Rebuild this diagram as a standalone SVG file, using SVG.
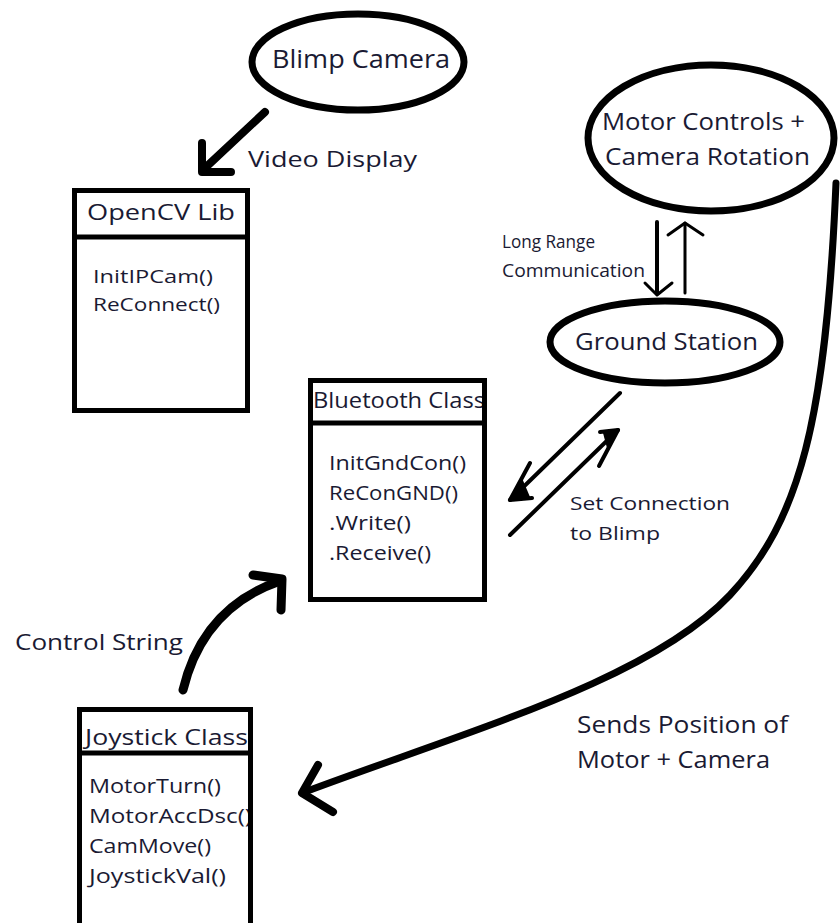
<svg xmlns="http://www.w3.org/2000/svg" width="840" height="923" viewBox="0 0 840 923">
<style>
.t{font-family:"Open Sans","Noto Sans","DejaVu Sans",sans-serif;fill:#1a1a33}
.box{fill:none;stroke:#000;stroke-width:5}
.div{stroke:#000;stroke-width:5}
.ell{fill:none;stroke:#000;stroke-width:7}
.c{fill:none;stroke:#000;stroke-linecap:round;stroke-linejoin:round}
</style>
<rect width="840" height="923" fill="#fff"/>
<g id="blimp-camera">
<ellipse class="ell" cx="358" cy="62" rx="106" ry="48"/>
<text class="t" x="272" y="68" font-size="25" textLength="178" lengthAdjust="spacingAndGlyphs">Blimp Camera</text>
</g>
<g id="motor-controls">
<ellipse class="ell" cx="711" cy="138" rx="123" ry="73"/>
<text class="t" x="602" y="130" font-size="24" textLength="203" lengthAdjust="spacingAndGlyphs">Motor Controls +</text>
<text class="t" x="605" y="165" font-size="24" textLength="205" lengthAdjust="spacingAndGlyphs">Camera Rotation</text>
</g>
<g id="ground-station">
<ellipse class="ell" cx="665" cy="342" rx="115" ry="41"/>
<text class="t" x="575" y="350" font-size="23" textLength="183" lengthAdjust="spacingAndGlyphs">Ground Station</text>
</g>
<g id="opencv-lib">
<text class="t" x="87" y="220" font-size="21" textLength="148" lengthAdjust="spacingAndGlyphs">OpenCV Lib</text>
<text class="t" x="93" y="283" font-size="19" textLength="120" lengthAdjust="spacingAndGlyphs">InitIPCam()</text>
<text class="t" x="93" y="311" font-size="19" textLength="127" lengthAdjust="spacingAndGlyphs">ReConnect()</text>
<rect class="box" x="74.5" y="190.5" width="173" height="220"/>
<line class="div" x1="74.5" y1="237" x2="247.5" y2="237"/>
</g>
<g id="bluetooth-class">
<text class="t" x="313" y="408" font-size="21" textLength="172" lengthAdjust="spacingAndGlyphs">Bluetooth Class</text>
<text class="t" x="329" y="470" font-size="20" textLength="137" lengthAdjust="spacingAndGlyphs">InitGndCon()</text>
<text class="t" x="329" y="500" font-size="20" textLength="129" lengthAdjust="spacingAndGlyphs">ReConGND()</text>
<text class="t" x="329" y="530" font-size="20" textLength="82" lengthAdjust="spacingAndGlyphs">.Write()</text>
<text class="t" x="329" y="560" font-size="20" textLength="102" lengthAdjust="spacingAndGlyphs">.Receive()</text>
<rect class="box" x="310.5" y="380.5" width="174" height="219"/>
<line class="div" x1="310.5" y1="423" x2="484.5" y2="423"/>
</g>
<g id="joystick-class">
<text class="t" x="85" y="745" font-size="21" textLength="163" lengthAdjust="spacingAndGlyphs">Joystick Class</text>
<text class="t" x="89" y="793" font-size="20" textLength="132" lengthAdjust="spacingAndGlyphs">MotorTurn()</text>
<text class="t" x="89" y="823" font-size="20" textLength="163" lengthAdjust="spacingAndGlyphs">MotorAccDsc()</text>
<text class="t" x="89" y="853" font-size="20" textLength="122" lengthAdjust="spacingAndGlyphs">CamMove()</text>
<text class="t" x="89" y="883" font-size="20" textLength="137" lengthAdjust="spacingAndGlyphs">JoystickVal()</text>
<rect class="box" x="79.5" y="709.5" width="171" height="240"/>
<line class="div" x1="79.5" y1="753" x2="250.5" y2="753"/>
</g>
<g id="connectors">
<line class="c" x1="265" y1="112" x2="205" y2="168" stroke-width="8"/>
<polyline class="c" points="202,143 202,172 231,172" stroke-width="8"/>
<line class="c" x1="657" y1="222" x2="657" y2="293" stroke-width="4"/>
<polyline class="c" points="645,283 657,295 672,283" stroke-width="3"/>
<line class="c" x1="685" y1="293" x2="685" y2="223" stroke-width="3"/>
<polyline class="c" points="668,235 685,223 703,235" stroke-width="3"/>
<line class="c" x1="620" y1="393" x2="510" y2="500" stroke-width="4"/>
<polyline class="c" points="530,463 510,500 532,498" stroke-width="4"/>
<polygon points="510,500 522,478 530,497" fill="#000"/>
<line class="c" x1="510" y1="535" x2="618" y2="430" stroke-width="4"/>
<polyline class="c" points="600,432 618,430 599,466" stroke-width="4"/>
<polygon points="618,430 603,433 607,448" fill="#000"/>
<path class="c" d="M183,690 C195,640 225,600 280,581" stroke-width="9"/>
<polyline class="c" points="253,575 282,579 281,610" stroke-width="9"/>
<path class="c" d="M836,183 C826,420 800,520 730,595 C650,680 470,730 302,793" stroke-width="7"/>
<polyline class="c" points="318,765 302,793 333,812" stroke-width="8"/>
</g>
<g id="labels">
<text class="t" x="248" y="167" font-size="21" textLength="169" lengthAdjust="spacingAndGlyphs">Video Display</text>
<text class="t" x="502" y="248" font-size="18" textLength="93" lengthAdjust="spacingAndGlyphs">Long Range</text>
<text class="t" x="502" y="277" font-size="18" textLength="143" lengthAdjust="spacingAndGlyphs">Communication</text>
<text class="t" x="570" y="510" font-size="18" textLength="160" lengthAdjust="spacingAndGlyphs">Set Connection</text>
<text class="t" x="570" y="540" font-size="18" textLength="90" lengthAdjust="spacingAndGlyphs">to Blimp</text>
<text class="t" x="15" y="650" font-size="21" textLength="168" lengthAdjust="spacingAndGlyphs">Control String</text>
<text class="t" x="577" y="733" font-size="23" textLength="211" lengthAdjust="spacingAndGlyphs">Sends Position of</text>
<text class="t" x="577" y="768" font-size="23" textLength="193" lengthAdjust="spacingAndGlyphs">Motor + Camera</text>
</g>
</svg>
